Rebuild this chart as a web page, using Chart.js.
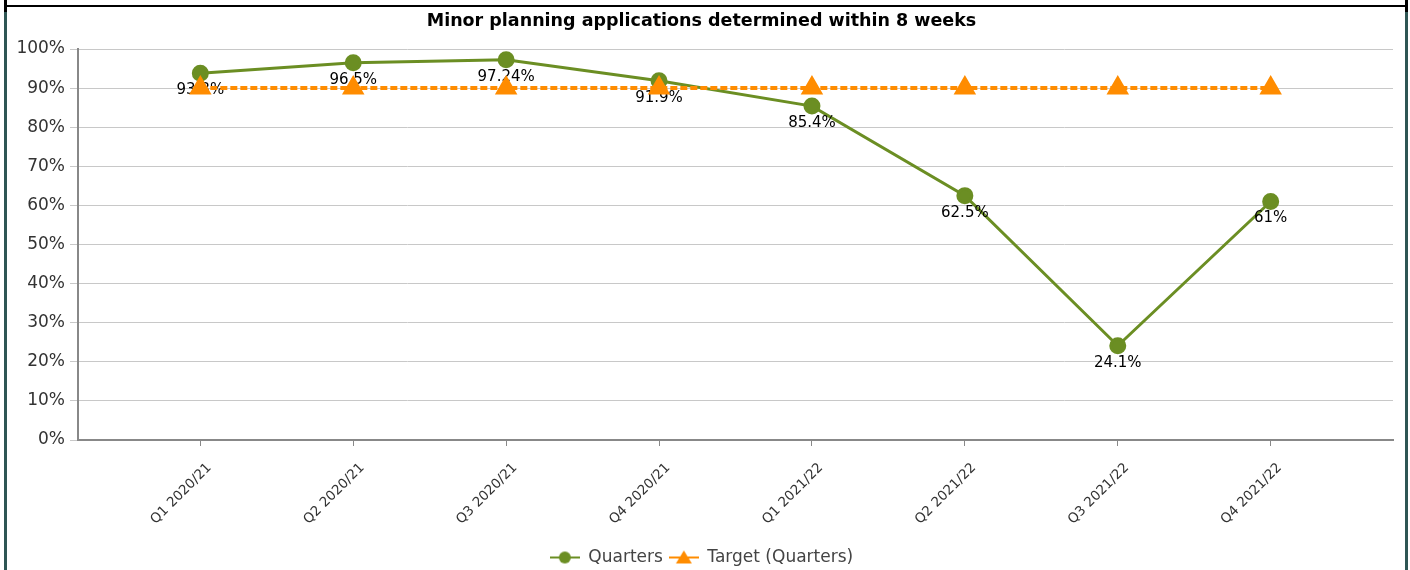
<!DOCTYPE html>
<html>
<head>
<meta charset="utf-8">
<script src="https://cdn.jsdelivr.net/npm/chart.js@4/dist/chart.umd.min.js"></script>
<style>
  body { margin: 0; background: #fff; }
  #wrap { position: relative; width: 1410px; height: 570px; overflow: hidden; }
  #myChart { position: absolute; left: 0; top: 0; }
  .edge { position: absolute; }
</style>
</head>
<body>
<div id="wrap">
  <canvas id="myChart" width="1410" height="570"></canvas>
  <!-- рамка вокруг графика -->
  <div class="edge" style="left:5px;top:5px;width:1401px;height:2px;background:#000"></div>
  <div class="edge" style="left:4px;top:0;width:3px;height:12px;background:#000"></div>
  <div class="edge" style="left:4px;top:12px;width:3px;height:558px;background:#2f5654"></div>
  <div class="edge" style="left:1405px;top:0;width:3px;height:12px;background:#000"></div>
  <div class="edge" style="left:1405px;top:12px;width:3px;height:558px;background:#2f5654"></div>
</div>
<script>
// Данные графика
const categories = ['Q1 2020/21', 'Q2 2020/21', 'Q3 2020/21', 'Q4 2020/21',
                    'Q1 2021/22', 'Q2 2021/22', 'Q3 2021/22', 'Q4 2021/22'];
const quarters = [93.8, 96.5, 97.24, 91.9, 85.4, 62.5, 24.1, 61];
const target = [90, 90, 90, 90, 90, 90, 90, 90];
const yTicks = [0, 10, 20, 30, 40, 50, 60, 70, 80, 90, 100];

const GREEN = '#6b8e23';
const ORANGE = '#ff8c00';
const FONT = 'DejaVu Sans';

// Значок легенды: линия с маркером
function legendIcon(color, shape) {
    const c = document.createElement('canvas');
    c.width = 30; c.height = 16;
    const g = c.getContext('2d');
    g.strokeStyle = color;
    g.lineWidth = 2;
    g.beginPath(); g.moveTo(0, 8); g.lineTo(30, 8); g.stroke();
    g.fillStyle = color;
    g.beginPath();
    if (shape === 'circle') {
        g.arc(15, 8, 6, 0, Math.PI * 2);
    } else {
        g.moveTo(15, 1); g.lineTo(23, 14); g.lineTo(7, 14); g.closePath();
    }
    g.fill();
    return c;
}

// Подписи значений под точками
const valueLabels = {
    id: 'valueLabels',
    afterDatasetDraw(chart, args) {
        if (args.index !== 0) return;
        const c = chart.ctx;
        c.save();
        c.font = '15px "' + FONT + '"';
        c.fillStyle = '#000';
        c.textAlign = 'center';
        c.textBaseline = 'middle';
        args.meta.data.forEach((pt, i) => {
            c.fillText(quarters[i] + '%', pt.x, pt.y + 17);
        });
        c.restore();
    }
};

const ctx = document.getElementById('myChart').getContext('2d');
const chart = new Chart(ctx, {
    type: 'line',
    data: {
        datasets: [
            {
                label: 'Quarters',
                data: quarters.map((v, i) => ({ x: i, y: v })),
                borderColor: GREEN,
                backgroundColor: GREEN,
                borderWidth: 3,
                pointRadius: 7,
                pointHoverRadius: 7,
                pointStyle: 'circle',
                fill: false,
                order: 1,
            },
            {
                label: 'Target (Quarters)',
                data: target.map((v, i) => ({ x: i, y: v })),
                borderColor: ORANGE,
                backgroundColor: ORANGE,
                borderWidth: 4,
                borderDash: [7, 3],
                pointStyle: 'triangle',
                pointRadius: 9,
                pointHoverRadius: 9,
                fill: false,
                order: 0, // рисуем поверх зелёной линии
            }
        ]
    },
    options: {
        responsive: false,
        animation: false,
        events: [],
        layout: { padding: { left: 10, right: 17, top: 0, bottom: -6 } },
        plugins: {
            title: {
                display: true,
                text: 'Minor planning applications determined within 8 weeks',
                color: '#000',
                font: { family: FONT, size: 17.5, weight: 'bold' },
                padding: { top: 11, bottom: 17 },
            },
            legend: {
                position: 'bottom',
                labels: {
                    color: '#444',
                    font: { family: FONT, size: 17 },
                    usePointStyle: true,
                    pointStyleWidth: 30,
                    padding: 6,
                    generateLabels(chart) {
                        const items = Chart.defaults.plugins.legend.labels.generateLabels(chart);
                        items.sort((a, b) => a.datasetIndex - b.datasetIndex);
                        items[0].pointStyle = legendIcon(GREEN, 'circle');
                        items[1].pointStyle = legendIcon(ORANGE, 'triangle');
                        return items;
                    }
                }
            },
            tooltip: { enabled: false },
        },
        scales: {
            x: {
                type: 'linear',
                min: -0.8,
                max: 7.8,
                afterBuildTicks(scale) {
                    scale.ticks = categories.map((c, i) => ({ value: i }));
                },
                afterFit(scale) { scale.height = 103; },
                ticks: {
                    autoSkip: false,
                    minRotation: 45,
                    maxRotation: 45,
                    color: '#333',
                    font: { family: FONT, size: 13.5 },
                    padding: 14,
                    labelOffset: 9,
                    callback: (v) => categories[v],
                },
                grid: {
                    drawOnChartArea: false,
                    drawTicks: true,
                    tickLength: 6,
                    color: '#888',
                },
                border: { color: '#888', width: 2 },
            },
            y: {
                min: 0,
                max: 100,
                afterBuildTicks(scale) {
                    scale.ticks = yTicks.map(v => ({ value: v }));
                },
                afterFit(scale) { scale.width = 68; },
                ticks: {
                    color: '#333',
                    font: { family: FONT, size: 17 },
                    padding: 5,
                    callback: (v) => v + '%',
                },
                grid: {
                    color: '#c8c8c8',
                    tickLength: 8,
                },
                border: { color: '#888', width: 2 },
            }
        }
    },
    plugins: [valueLabels]
});
</script>
</body>
</html>
